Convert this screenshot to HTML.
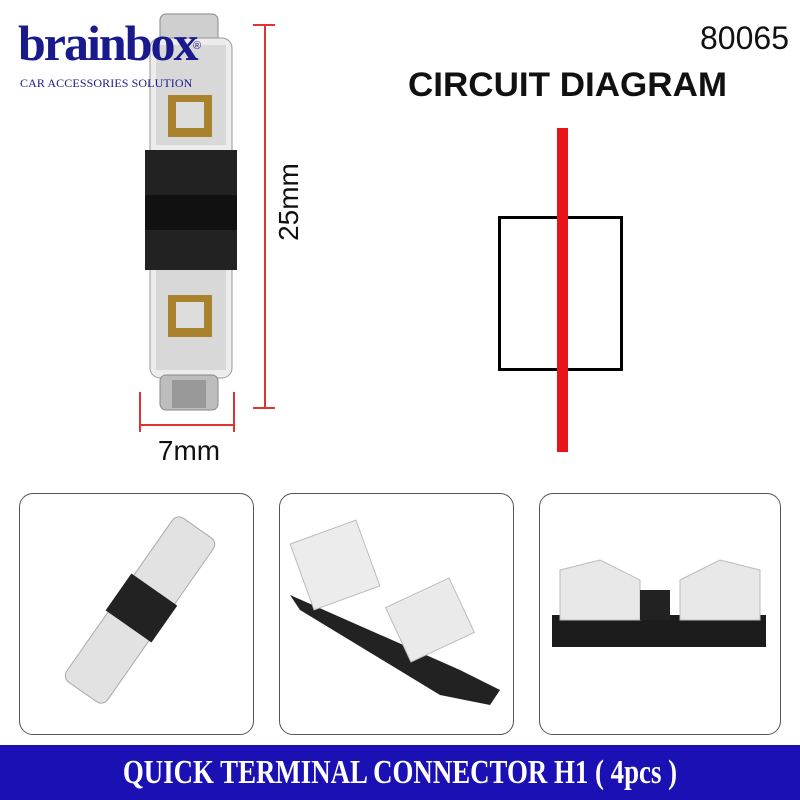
<!DOCTYPE html>
<html><head><style>
body{margin:0;width:800px;height:800px;background:#fff;position:relative;overflow:hidden;font-family:"Liberation Sans",sans-serif}
.a{position:absolute}
.panel{position:absolute;top:493px;height:240px;border:1.5px solid #555;border-radius:14px;background:#fff}
</style></head><body>
<svg class="a" style="left:0;top:0" width="800" height="480">
 <rect x="160" y="14" width="58" height="30" rx="6" fill="#cfcfcf" stroke="#888"/>
 <rect x="150" y="38" width="82" height="340" rx="10" fill="#ececec" stroke="#999"/>
 <rect x="156" y="45" width="70" height="100" fill="#d8d8d8"/>
 <rect x="156" y="265" width="70" height="105" fill="#d8d8d8"/>
 <rect x="145" y="150" width="92" height="120" fill="#222"/>
 <rect x="145" y="195" width="92" height="35" fill="#111"/>
 <rect x="168" y="95" width="44" height="42" fill="#a8822c"/>
 <rect x="176" y="102" width="28" height="26" fill="#ddd"/>
 <rect x="168" y="295" width="44" height="42" fill="#a8822c"/>
 <rect x="176" y="302" width="28" height="26" fill="#ddd"/>
 <rect x="160" y="375" width="58" height="35" rx="6" fill="#bdbdbd" stroke="#888"/>
 <rect x="172" y="380" width="34" height="28" fill="#999"/>
 <line x1="265" y1="25" x2="265" y2="408" stroke="#d33" stroke-width="2"/>
 <line x1="253" y1="25" x2="275" y2="25" stroke="#d33" stroke-width="2"/>
 <line x1="253" y1="408" x2="275" y2="408" stroke="#d33" stroke-width="2"/>
 <line x1="140" y1="392" x2="140" y2="432" stroke="#d33" stroke-width="2"/>
 <line x1="234" y1="392" x2="234" y2="432" stroke="#d33" stroke-width="2"/>
 <line x1="140" y1="425" x2="234" y2="425" stroke="#d33" stroke-width="2"/>
 <text x="298" y="202" font-size="28" fill="#111" transform="rotate(-90 298 202)" text-anchor="middle" font-family="Liberation Sans">25mm</text>
 <text x="189" y="460" font-size="28" fill="#111" text-anchor="middle" font-family="Liberation Sans">7mm</text>
 <rect x="499.5" y="217.5" width="122" height="152" fill="none" stroke="#000" stroke-width="3"/>
 <rect x="557" y="128" width="11" height="324" fill="#e8141a"/>
</svg>
<div class="a" style="left:18px;top:16px;font-family:'Liberation Serif',serif;font-size:50px;font-weight:bold;color:#1a1a8c;letter-spacing:-2px;line-height:54px">brainbox</div>
<div class="a" style="left:20px;top:76px;font-family:'Liberation Serif',serif;font-size:12px;color:#1a1a8c;letter-spacing:0.1px">CAR ACCESSORIES SOLUTION</div>
<div class="a" style="left:193px;top:40px;font-size:11px;color:#1a1a8c">®</div>
<div class="a" style="left:700px;top:20px;font-size:32px;color:#111">80065</div>
<div class="a" style="left:408px;top:66px;font-size:34px;font-weight:bold;color:#111;transform:scaleX(1.03);transform-origin:left">CIRCUIT DIAGRAM</div>

<div class="panel" style="left:19px;width:233px"></div>
<div class="panel" style="left:279px;width:233px"></div>
<div class="panel" style="left:539px;width:240px"></div>
<svg class="a" style="left:0;top:490px" width="800" height="250">
 <g transform="rotate(-55 140 120)"><rect x="40" y="95" width="200" height="50" rx="8" fill="#e2e2e2" stroke="#aaa"/><rect x="120" y="92" width="45" height="56" fill="#222"/></g>
 <polygon points="290,105 460,180 500,200 490,215 440,205 300,120" fill="#222"/>
 <rect x="300" y="40" width="70" height="70" fill="#ececec" stroke="#bbb" transform="rotate(-20 335 75)"/>
 <rect x="395" y="100" width="70" height="60" fill="#eaeaea" stroke="#bbb" transform="rotate(-25 430 130)"/>
 <rect x="552" y="125" width="214" height="32" fill="#1c1c1c"/>
 <polygon points="560,80 600,70 640,90 640,130 560,130" fill="#e8e8e8" stroke="#bbb"/>
 <polygon points="680,90 720,70 760,80 760,130 680,130" fill="#e8e8e8" stroke="#bbb"/>
 <rect x="640" y="100" width="30" height="30" fill="#222"/>
</svg>

<div class="a" style="left:0;top:745px;width:800px;height:55px;background:#1a10b4"></div>
<div class="a" style="left:0;top:747px;width:800px;text-align:center;font-family:'Liberation Serif',serif;font-size:34px;font-weight:bold;color:#fff;transform:scaleX(0.79);line-height:52px">QUICK TERMINAL CONNECTOR H1 ( 4pcs )</div>
</body></html>
